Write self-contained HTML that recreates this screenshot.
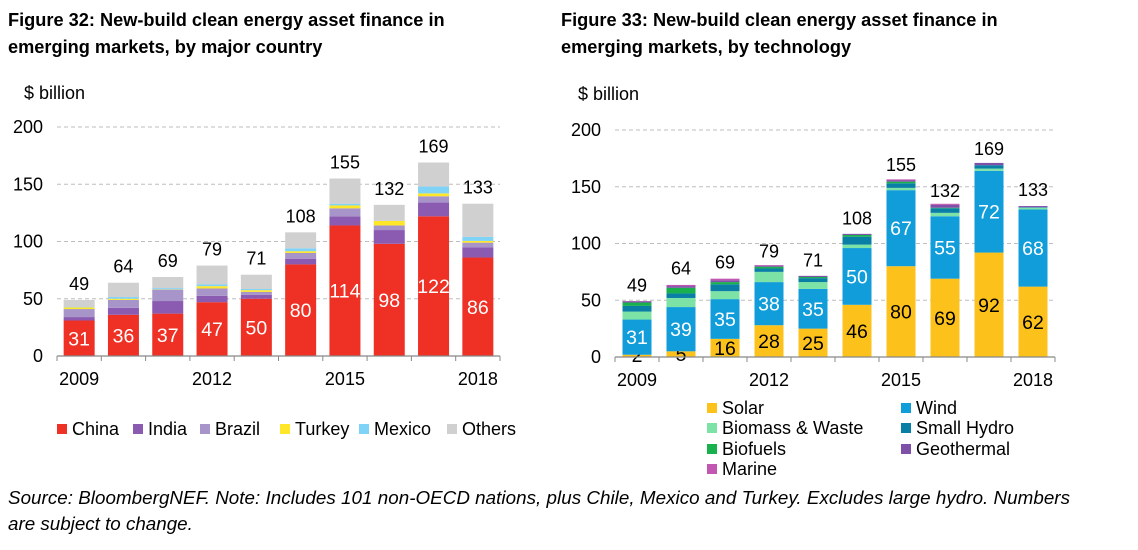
<!DOCTYPE html>
<html><head><meta charset="utf-8"><style>
body{margin:0;background:#fff;width:1138px;height:545px;overflow:hidden;font-family:"Liberation Sans",Arial,sans-serif}
svg text{font-family:"Liberation Sans",Arial,sans-serif}
</style></head><body>
<svg id="s" width="1138" height="545" xmlns="http://www.w3.org/2000/svg">
<text x="8" y="26" font-size="18.2" font-weight="bold" fill="#000">Figure 32: New-build clean energy asset finance in</text>
<text x="8" y="53" font-size="18.2" font-weight="bold" fill="#000">emerging markets, by major country</text>
<text x="561" y="26" font-size="18.2" font-weight="bold" fill="#000">Figure 33: New-build clean energy asset finance in</text>
<text x="561" y="53" font-size="18.2" font-weight="bold" fill="#000">emerging markets, by technology</text>
<text x="24" y="99" font-size="18">$ billion</text>
<text x="578" y="100" font-size="18">$ billion</text>
<text x="8" y="504" font-size="18.8" font-style="italic" textLength="1062">Source: BloombergNEF. Note: Includes 101 non-OECD nations, plus Chile, Mexico and Turkey. Excludes large hydro. Numbers</text>
<text x="8" y="530" font-size="18.8" font-style="italic">are subject to change.</text>
</svg>
<script>
const years=["2009","2010","2011","2012","2013","2014","2015","2016","2017","2018"];
const yTicks=[0,50,100,150,200];
const leftTotals=[49,64,69,79,71,108,155,132,169,133];
const china=[31,36,37,47,50,80,114,98,122,86];
const india=[3,6,11,5.5,3.5,5,8,12,12,9];
const brazil=[7,7,10,6.5,2.5,5,7,4,5.5,4];
const turkey=[1.5,1,0.3,2,1.5,1.5,2.5,4,2.5,1.5];
const mexico=[0.3,1.5,1,1.5,1,2.5,1.5,0,6,3.5];
const rightTotals=[49,64,69,79,71,108,155,132,169,133];
const solar=[2,5,16,28,25,46,80,69,92,62];
const wind=[31,39,35,38,35,50,67,55,72,68];
const biomass=[7,8,7,9,6,3,2,3,2,1.5];
const smallHydro=[5,4,6,3,3.5,7,4,4,3,0.5];
const biofuels=[3,5,2,1.5,1,1.5,1.5,0.5,0,0];
const geothermal=[1,1.5,1.5,1,1,1,1,2.5,2,1];
const marine=[0.3,1,1.5,0.5,0,0,1,1,0,0];
const others=leftTotals.map((t,i)=>Math.max(0,t-china[i]-india[i]-brazil[i]-turkey[i]-mexico[i]));

const NS="http://www.w3.org/2000/svg";
const svg=document.getElementById('s');
function el(tag,attrs,parent){const e=document.createElementNS(NS,tag);for(const k in attrs)e.setAttribute(k,attrs[k]);(parent||svg).appendChild(e);return e;}

function chart(cfg){
  const g=el('g',{});
  
  
  const y=v=>cfg.y0-(v/200)*(cfg.y0-cfg.y200);
  const slot=(cfg.x1-cfg.x0)/years.length;
  const xc=i=>cfg.x0+slot*(i+0.5);
  yTicks.forEach(t=>{
    if(t>0){const l=el('line',{x1:cfg.x0,x2:cfg.x1,y1:y(t),y2:y(t),stroke:'#bdbdbd','stroke-dasharray':'4,3','stroke-width':1},g);
    
    }
    const tx=el('text',{x:cfg.x0-14,y:y(t)+6,'font-size':18,'text-anchor':'end'},g);tx.textContent=t;
    
    
  });
  years.forEach((yr,i)=>{
    let base=0;
    cfg.series.forEach(s=>{
      const v=s.data[i];if(v<=0)return;
      const r=el('rect',{x:xc(i)-cfg.bw/2,y:y(base+v),width:cfg.bw,height:y(base)-y(base+v),fill:s.color},g);
      
      
      if(s.label){
        let ly=(y(base)+y(base+v))/2+7; if(v<4)ly=y(0)+5;
        const t=el('text',{x:xc(i),y:ly,'font-size':19.5,'text-anchor':'middle',fill:s.labelColor},g);
        t.textContent=Math.round(v);
        
        
      }
      base+=v;
    });
    const t=el('text',{x:xc(i),y:y(cfg.totals[i])-10,'font-size':18,'text-anchor':'middle'},g);
    t.textContent=cfg.totals[i];
    
    
    if(i%3===0){const xt=el('text',{x:xc(i),y:y(0)+29,'font-size':18,'text-anchor':'middle'},g);xt.textContent=yr;
      
      }
  });
  const ax=el('line',{x1:cfg.x0,x2:cfg.x1,y1:y(0),y2:y(0),stroke:'#888','stroke-width':1.2},g);
  
  
  for(let i=0;i<=years.length;i++){el('line',{x1:cfg.x0+slot*i,x2:cfg.x0+slot*i,y1:y(0),y2:y(0)+5,stroke:'#888'},g);}
}

chart({name:'country-chart',x0:57,x1:500,y0:356,y200:127,bw:31,totals:leftTotals,series:[
 {key:'china',data:china,color:'#ee3124',label:true,labelColor:'#fff'},
 {key:'india',data:india,color:'#8b5ab1'},
 {key:'brazil',data:brazil,color:'#a795c9'},
 {key:'turkey',data:turkey,color:'#ffe629'},
 {key:'mexico',data:mexico,color:'#7fd3f7'},
 {key:'others',data:others,color:'#d0d0d0'}]});
chart({name:'technology-chart',x0:615,x1:1055,y0:357,y200:130,bw:29,totals:rightTotals,series:[
 {key:'solar',data:solar,color:'#fcc21b',label:true,labelColor:'#000'},
 {key:'wind',data:wind,color:'#119dd9',label:true,labelColor:'#fff'},
 {key:'biomass',data:biomass,color:'#7de2a5'},
 {key:'small-hydro',data:smallHydro,color:'#0a7fa6'},
 {key:'biofuels',data:biofuels,color:'#19b04e'},
 {key:'geothermal',data:geothermal,color:'#7f50a8'},
 {key:'marine',data:marine,color:'#c157b0'}]});

function legend(items){
  items.forEach(it=>{
    const r=el('rect',{x:it[0],y:it[1]-5,width:10,height:10,fill:it[3]});
    
    
    const t=el('text',{x:it[0]+15,y:it[1]+6,'font-size':18});t.textContent=it[2];
    
    
  });
}
legend([[57,429,'China','#ee3124'],[133,429,'India','#8b5ab1'],[200,429,'Brazil','#a795c9'],[280,429,'Turkey','#ffe629'],[359,429,'Mexico','#7fd3f7'],[447,429,'Others','#d0d0d0'],
[707,408,'Solar','#fcc21b'],[901,408,'Wind','#119dd9'],[707,428,'Biomass & Waste','#7de2a5'],[901,428,'Small Hydro','#0a7fa6'],[707,449,'Biofuels','#19b04e'],[901,449,'Geothermal','#7f50a8'],[707,469,'Marine','#c157b0']]);
</script>
</body></html>
